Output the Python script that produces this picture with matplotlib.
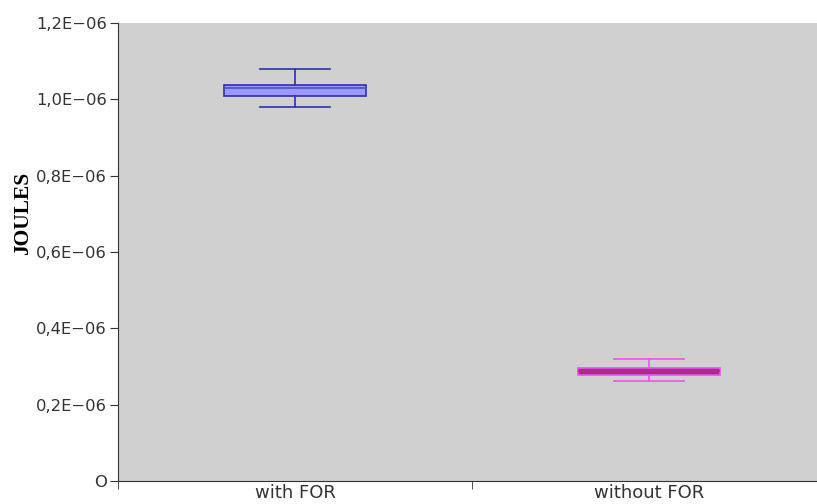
import matplotlib.pyplot as plt
from matplotlib.ticker import FixedLocator

# Datos (julios)
categorias = ['with FOR', 'without FOR']
bigote_inf = [0.979e-6, 0.263e-6]
caja_inf = [1.010e-6, 0.278e-6]
mediana = [1.029e-6, 0.289e-6]
caja_sup = [1.038e-6, 0.295e-6]
bigote_sup = [1.080e-6, 0.320e-6]

yticks = [0, 0.2e-6, 0.4e-6, 0.6e-6, 0.8e-6, 1.0e-6, 1.2e-6]
ylabels = ['O', '0,2E\u221206', '0,4E\u221206', '0,6E\u221206', '0,8E\u221206', '1,0E\u221206', '1,2E\u221206']

relleno = ['#9999ff', '#aa2a8c']
borde = ['#3030a8', '#f050f0']
linea_med = ['#5050c0', '#b02a90']

fig = plt.figure(figsize=(8.17, 5.04), dpi=100)
ax = fig.add_axes([118/817, 23/504, 708/817, 458/504])
ax.set_facecolor('#d0d0d0')

stats = []
for i in range(len(categorias)):
    stats.append({'whislo': bigote_inf[i], 'q1': caja_inf[i], 'med': mediana[i],
                  'q3': caja_sup[i], 'whishi': bigote_sup[i], 'label': categorias[i]})

pos = [0.5 + i for i in range(len(categorias))]
bp = ax.bxp(stats, positions=pos, widths=0.4, showfliers=False, patch_artist=True,
            capwidths=0.2)
for i in range(len(categorias)):
    bp['boxes'][i].set_facecolor(relleno[i])
    bp['boxes'][i].set_edgecolor(borde[i])
    bp['boxes'][i].set_linewidth(1.2)
    bp['medians'][i].set_color(linea_med[i])
    bp['medians'][i].set_linewidth(1.2)
    for w in bp['whiskers'][2*i:2*i+2] + bp['caps'][2*i:2*i+2]:
        w.set_color(borde[i])
        w.set_linewidth(1.2)

ax.set_xlim(0, 2)
ax.set_ylim(0, 1.2e-6)
ax.set_yticks(yticks)
ax.set_yticklabels(ylabels, fontsize=11.8, color='#333333')
ax.set_xticks(pos)
ax.set_xticklabels(categorias, fontsize=13, color='#333333')
ax.tick_params(axis='x', which='major', length=0, pad=2)
ax.xaxis.set_minor_locator(FixedLocator([0, 1, 2]))
ax.tick_params(axis='x', which='minor', length=6, color='#333333')
ax.tick_params(axis='y', length=6, color='#333333', pad=2)

for s in ['top', 'right']:
    ax.spines[s].set_visible(False)
for s in ['left', 'bottom']:
    ax.spines[s].set_color('#333333')

# Etiqueta del eje Y (fuera del centro, como en el original)
fig.text(23/817, 1 - 213/504, 'JOULES', fontsize=15.5, fontweight='bold',
         family='Liberation Serif', rotation=90, ha='center', va='center')

fig.savefig('out.png', dpi=100)
